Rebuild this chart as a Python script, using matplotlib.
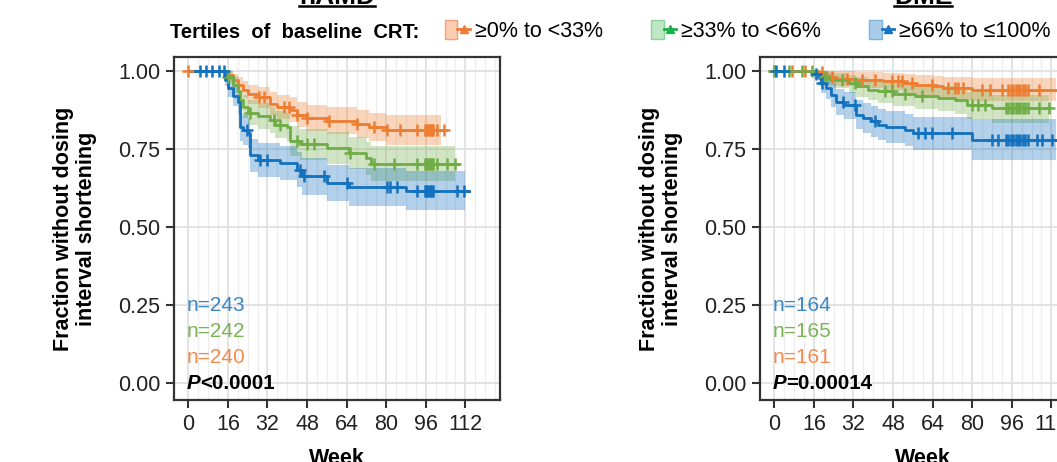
import numpy as np
import matplotlib
matplotlib.use("Agg")
import matplotlib.pyplot as plt
from matplotlib.patches import Patch
from matplotlib.lines import Line2D
from matplotlib.legend_handler import HandlerTuple

plt.rcParams['font.family'] = ['Liberation Sans', 'DejaVu Sans']

# ---------------- data ----------------
group_labels = ["≥0% to <33%", "≥33% to <66%", "≥66% to ≤100%"]
panel_titles = ["nAMD", "DME"]
x_ticks = [0, 16, 32, 48, 64, 80, 96, 112]
y_ticks = [0.0, 0.25, 0.5, 0.75, 1.0]

# nAMD
namd_n = [240, 242, 243]
namd_p = "<0.0001"
namd_t_orange = [0, 16, 18, 20, 22, 24, 28, 33, 36, 41, 44, 48, 56, 68, 73, 80]
namd_s_orange = [1.0, 0.985, 0.97, 0.955, 0.94, 0.925, 0.915, 0.895, 0.885, 0.875, 0.86, 0.85, 0.84, 0.83, 0.82, 0.812]
namd_hi_orange = [1.0, 1.0, 0.99, 0.98, 0.968, 0.956, 0.948, 0.931, 0.923, 0.915, 0.901, 0.892, 0.883, 0.874, 0.866, 0.86]
namd_lo_orange = [1.0, 0.97, 0.95, 0.93, 0.912, 0.894, 0.882, 0.859, 0.847, 0.835, 0.819, 0.808, 0.797, 0.786, 0.774, 0.764]
namd_end_orange = 104
namd_band_end_orange = 102
namd_cens_orange = [0, 28.4, 30.5, 38.5, 40.6, 44, 48, 56.7, 68.2, 74.9, 80.3, 85.7, 92.5,
                    95.5, 96, 96.5, 97, 97.5, 98, 98.5, 99, 100.6, 103.3]

namd_t_green = [0, 16, 18, 20, 21, 22, 24, 28, 33, 35, 40, 41, 45, 56, 65, 72, 74]
namd_s_green = [1.0, 0.98, 0.955, 0.935, 0.905, 0.885, 0.865, 0.855, 0.843, 0.827, 0.82, 0.775, 0.765, 0.753, 0.737, 0.72, 0.703]
namd_hi_green = [1.0, 0.998, 0.982, 0.966, 0.94, 0.922, 0.905, 0.896, 0.885, 0.87, 0.864, 0.823, 0.814, 0.803, 0.788, 0.773, 0.758]
namd_lo_green = [1.0, 0.962, 0.928, 0.904, 0.87, 0.848, 0.825, 0.814, 0.801, 0.784, 0.776, 0.727, 0.716, 0.703, 0.686, 0.667, 0.648]
namd_end_green = 109
namd_band_end_green = 108
namd_cens_green = [16, 25, 34.5, 37.2, 44, 48, 50.7, 65.5, 74.9, 83, 92.5,
                   95.5, 96, 96.5, 97, 97.5, 98, 98.5, 99, 100.6, 104.6, 108]

namd_t_blue = [0, 15, 16, 18, 20, 21, 22, 24, 25, 28, 37, 44, 46, 56, 65, 88]
namd_s_blue = [1.0, 0.97, 0.945, 0.92, 0.9, 0.82, 0.81, 0.80, 0.73, 0.715, 0.705, 0.684, 0.662, 0.641, 0.628, 0.615]
namd_hi_blue = [1.0, 0.99, 0.974, 0.953, 0.937, 0.865, 0.857, 0.848, 0.783, 0.769, 0.76, 0.741, 0.72, 0.7, 0.688, 0.678]
namd_lo_blue = [1.0, 0.95, 0.916, 0.887, 0.863, 0.775, 0.763, 0.752, 0.677, 0.661, 0.65, 0.627, 0.604, 0.582, 0.568, 0.555]
namd_end_blue = 113.5
namd_band_end_blue = 112
namd_cens_blue = [4.9, 7, 9.6, 12.3, 14.3, 23.7, 29.1, 31.8, 45.3, 46.6, 54.7, 64.2, 80.3, 81.7, 84.4, 92.5,
                  95.5, 96, 96.5, 97, 97.5, 98, 98.5, 99, 108.6, 111.3]

# DME
dme_n = [161, 165, 164]
dme_p = "=0.00014"
dme_t_orange = [0, 18, 20, 22, 24, 33, 44, 52, 57, 64, 68, 80]
dme_s_orange = [1.0, 0.995, 0.987, 0.98, 0.975, 0.97, 0.966, 0.96, 0.955, 0.95, 0.944, 0.939]
dme_hi_orange = [1.0, 1.0, 1.0, 1.0, 0.998, 0.995, 0.993, 0.99, 0.987, 0.984, 0.98, 0.977]
dme_lo_orange = [1.0, 0.985, 0.97, 0.96, 0.952, 0.944, 0.938, 0.93, 0.922, 0.916, 0.908, 0.902]
dme_end_orange = 116
dme_band_end_orange = 114
dme_cens_orange = [0, 7, 12.4, 19.1, 23.2, 29.2, 35.3, 40.7, 47.4, 50.1, 51.5, 55.5, 63.6, 70.4, 73, 74.4, 76.4,
                   83.8, 87.2, 91.9, 94.5, 95.5, 96.5, 97.5, 98.5, 99.5, 100.5, 101.5, 102.5, 106.8]

dme_t_green = [0, 17, 19, 21, 24, 30, 33, 38, 42, 48, 57, 66, 73, 78, 88]
dme_s_green = [1.0, 0.99, 0.98, 0.975, 0.97, 0.96, 0.95, 0.94, 0.934, 0.925, 0.918, 0.912, 0.905, 0.891, 0.88]
dme_hi_green = [1.0, 1.0, 0.998, 0.996, 0.994, 0.988, 0.98, 0.973, 0.968, 0.961, 0.956, 0.951, 0.945, 0.933, 0.924]
dme_lo_green = [1.0, 0.975, 0.958, 0.951, 0.944, 0.93, 0.917, 0.905, 0.897, 0.886, 0.878, 0.871, 0.863, 0.846, 0.833]
dme_end_green = 111.5
dme_band_end_green = 111
dme_cens_green = [0, 6, 11.1, 15.2, 20.5, 27.3, 32.6, 44.8, 47.4, 52.8, 59.5, 79.8, 82.5, 85.2,
                  93.5, 94.5, 95.5, 96.5, 97.5, 98.5, 99.5, 100.5, 101.5, 102.5, 106.8, 110.9]

dme_t_blue = [0, 16, 18, 19, 21, 23, 25, 28, 33, 36, 39, 42, 45, 53, 56, 80]
dme_s_blue = [1.0, 0.99, 0.976, 0.96, 0.945, 0.923, 0.9, 0.89, 0.86, 0.85, 0.838, 0.827, 0.82, 0.81, 0.80, 0.78]
dme_hi_blue = [1.0, 1.0, 0.998, 0.99, 0.979, 0.962, 0.942, 0.933, 0.907, 0.898, 0.887, 0.877, 0.871, 0.862, 0.853, 0.846]
dme_lo_blue = [1.0, 0.975, 0.952, 0.93, 0.911, 0.885, 0.858, 0.846, 0.813, 0.802, 0.789, 0.777, 0.769, 0.758, 0.747, 0.716]
dme_end_blue = 116
dme_band_end_blue = 114
dme_cens_blue = [0.7, 4, 16.8, 19.1, 27.8, 32.6, 40.7, 58.2, 60.9, 63.6, 71.7, 87.9, 90.6,
                 93.5, 94.5, 95.5, 96.5, 97.5, 98.5, 99.5, 100.5, 101.5, 102.5, 106.1, 108.1, 112.2]

# ---------------- styles ----------------
line_colors = ['#ED7D31', '#70AD47', '#1371BE']
text_colors = ['#F08C50', '#7CB356', '#3A86C6']
legend_line_colors = ['#F07B35', '#1DB04A', '#1673C0']
legend_face = ['#FBCDB0', '#BDE8C5', '#A9CDE9']
legend_edge = ['#F0A27A', '#8FD19C', '#7DB2DD']

W, H = 1057, 462
fig = plt.figure(figsize=(W / 100, H / 100), dpi=100)


def px_rect(x0, y0, x1, y1):
    return [x0 / W, 1 - y1 / H, (x1 - x0) / W, (y1 - y0) / H]


def step_val(t, s, x):
    i = np.searchsorted(np.asarray(t), x, side='right') - 1
    return np.asarray(s)[np.clip(i, 0, len(s) - 1)]


panels = [
    dict(ax_rect=px_rect(174, 57, 500, 400), title=panel_titles[0], n=namd_n, p=namd_p,
         series=[(namd_t_orange, namd_s_orange, namd_lo_orange, namd_hi_orange, namd_end_orange, namd_band_end_orange, namd_cens_orange),
                 (namd_t_green, namd_s_green, namd_lo_green, namd_hi_green, namd_end_green, namd_band_end_green, namd_cens_green),
                 (namd_t_blue, namd_s_blue, namd_lo_blue, namd_hi_blue, namd_end_blue, namd_band_end_blue, namd_cens_blue)]),
    dict(ax_rect=px_rect(760, 57, 1086, 400), title=panel_titles[1], n=dme_n, p=dme_p,
         series=[(dme_t_orange, dme_s_orange, dme_lo_orange, dme_hi_orange, dme_end_orange, dme_band_end_orange, dme_cens_orange),
                 (dme_t_green, dme_s_green, dme_lo_green, dme_hi_green, dme_end_green, dme_band_end_green, dme_cens_green),
                 (dme_t_blue, dme_s_blue, dme_lo_blue, dme_hi_blue, dme_end_blue, dme_band_end_blue, dme_cens_blue)]),
]

title_texts = []
for pan in panels:
    ax = fig.add_axes(pan['ax_rect'])
    ax.set_xlim(-5.8, 126)
    ax.set_ylim(-0.053, 1.044)
    ax.set_xticks(x_ticks)
    ax.set_xticks(np.arange(0, 127, 4), minor=True)
    ax.set_yticks(y_ticks)
    ax.set_yticklabels([f"{v:.2f}" for v in y_ticks])
    ax.grid(which='minor', axis='x', color='#EDEDED', lw=1.0, zorder=0)
    ax.grid(which='major', color='#E0E0E0', lw=1.3, zorder=0)
    ax.tick_params(which='minor', length=0)
    ax.tick_params(which='major', length=6, width=1.5, color='#333333',
                   labelsize=15.5, labelcolor='#222222', pad=4)
    for sp in ax.spines.values():
        sp.set_color('#333333')
        sp.set_linewidth(1.6)
    ax.set_axisbelow(True)

    # bands first
    for k, (t, s, lo, hi, end, bend, cens) in enumerate(pan['series']):
        tb = list(t) + [bend]
        ax.fill_between(tb, list(lo) + [lo[-1]], list(hi) + [hi[-1]], step='post',
                        color=line_colors[k], alpha=0.32, lw=0, zorder=1)
    for k, (t, s, lo, hi, end, bend, cens) in enumerate(pan['series']):
        ax.step(list(t) + [end], list(s) + [s[-1]], where='post',
                color=line_colors[k], lw=2.0, zorder=3)
        cy = step_val(t, s, np.asarray(cens))
        ax.plot(cens, cy, ls='none', marker='+', ms=8.5, mew=1.8,
                color=line_colors[k], zorder=4)

    # n labels & P value
    n_y = [0.084, 0.167, 0.25]
    for k in range(3):
        ax.text(-0.6, n_y[k], f"n={pan['n'][k]}", color=text_colors[k],
                fontsize=15, ha='left', va='center', zorder=5)
    tp = ax.text(-0.6, 0.0, "P", fontsize=14.8, fontweight='bold', style='italic',
                 ha='left', va='center', zorder=5)
    ax.annotate(pan['p'], xy=(1, 0), xycoords=tp, fontsize=14.8, fontweight='bold',
                ha='left', va='bottom', zorder=5)

    ax.set_xlabel("Week", fontsize=15.5, fontweight='bold')
    ax.xaxis.set_label_coords(0.5, -0.14)
    ax.xaxis.label.set_va('top')
    ax.set_ylabel("Fraction without dosing\ninterval shortening", fontsize=15.5,
                  fontweight='bold', linespacing=1.12)
    ax.yaxis.set_label_coords(-0.304, 0.5)
    ax.yaxis.label.set_va('center')

    # panel title (partially cropped at top)
    x0, y0, w0, h0 = pan['ax_rect']
    cx = x0 + w0 / 2
    tt = fig.text(cx, 1 - 3.5 / H, pan['title'], fontsize=19, fontweight='bold',
                  ha='center', va='baseline')
    title_texts.append(tt)

# legend row
fig.text(170 / W, 1 - 32 / H, "Tertiles  of  baseline  CRT:", fontsize=14.5,
         fontweight='bold', ha='left', va='center')
handles = []
for k in range(3):
    p = Patch(facecolor=legend_face[k], edgecolor=legend_edge[k], lw=1.0)
    l = Line2D([], [], color=legend_line_colors[k], lw=2.0, marker='^', ms=6)
    handles.append((p, l))
fig.legend(handles, group_labels, handler_map={tuple: HandlerTuple(ndivide=None, pad=0)},
           ncol=3, loc='center left', bbox_to_anchor=(445 / W, 1 - 31 / H),
           frameon=False, fontsize=15.5, borderaxespad=0, borderpad=0,
           handlelength=1.15, handleheight=1.0, handletextpad=0.23, columnspacing=2.25)

# underline the panel titles
fig.canvas.draw()
r = fig.canvas.get_renderer()
for tt in title_texts:
    bb = tt.get_window_extent(renderer=r)
    fig.add_artist(Line2D([bb.x0 / W, bb.x1 / W], [1 - 6 / H, 1 - 6 / H],
                          transform=fig.transFigure, color='black', lw=1.8))

fig.savefig("out.png", dpi=100)
